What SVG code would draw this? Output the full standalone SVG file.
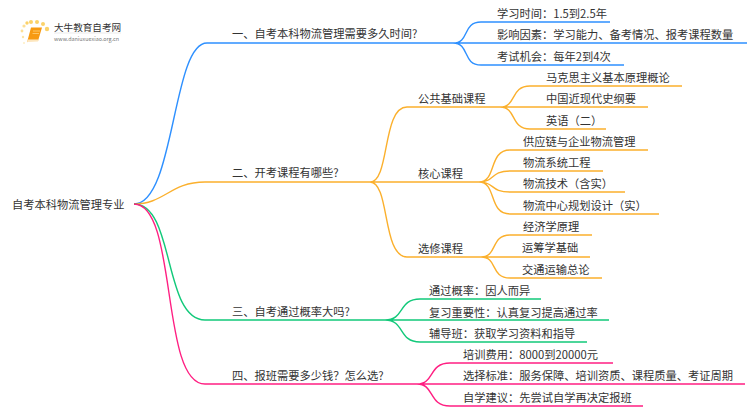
<svg xmlns="http://www.w3.org/2000/svg" width="750" height="410" viewBox="0 0 750 410">
<style>
text{font-family:"Noto Sans CJK SC","Noto Sans",sans-serif;font-size:11.25px;fill:#333}
.l{fill:none;stroke-width:1.4}
.b{stroke:#2e90ff}.o{stroke:#fbb02d}.g{stroke:#12c97a}.p{stroke:#ff1f82}
</style>
<rect width="750" height="410" fill="#fff"/>
<g id="connectors">
<path class="l b" d="M134 204C175 204 172 43 207 43H453"/>
<path class="l o" d="M134 204C165 204 170 182 205 182H370"/>
<path class="l g" d="M134 204C175 204 163 320 205 320H385"/>
<path class="l p" d="M134 204C178 204 160 384 205 384H417"/>
<path class="l b" d="M453 43C470 43 462 22 481 22H610M453 43H747M453 43C470 43 462 65 481 65H624"/>
<path class="l o" d="M370 182C390 182 382 107 407 107H500M370 182H479M370 182C390 182 382 257 407 257H481"/>
<path class="l o" d="M500 107C517 107 510 86 530 86H682M500 107H648M500 107C517 107 510 129 530 129H606"/>
<path class="l o" d="M479 182C497 182 488 150 510 150H648M479 182C495 182 490 171 510 171H603M479 182C495 182 490 192 510 192H625M479 182C497 182 488 214 510 214H659"/>
<path class="l o" d="M481 257C498 257 490 235 510 235H592M481 257H590M481 257C498 257 490 278 510 278H602"/>
<path class="l g" d="M385 320C405 320 398 299 420 299H541M385 320H609M385 320C405 320 398 342 420 342H587"/>
<path class="l p" d="M417 384C435 384 428 363 450 363H613M417 384H745M417 384C435 384 428 406 450 406H643"/>
</g>
<g id="logo">
<g fill="#fbd26a"><circle cx="24" cy="26" r="1.6" opacity=".7"/><circle cx="27" cy="23" r="1.7"/><circle cx="31" cy="22" r="2"/><circle cx="37" cy="22" r="2"/><circle cx="43" cy="24" r="2"/><circle cx="47" cy="29" r="2.2"/><circle cx="22" cy="31" r="1.4" opacity=".7"/><circle cx="23" cy="37" r="1.2" opacity=".6"/><circle cx="24" cy="43" r="1" opacity=".4"/></g>
<path d="M31 27.500H42L38 41H28L27 42.500Z" fill="#f79a12"/><path d="M27 41L28 39.500H38.500L38 41.500L28.500 42Z" fill="#fde6bd"/><path d="M33 31H40M32.500 33.500H39" stroke="#ffd27a" stroke-width=".8"/>
<text x="54" y="30.500" style="font-size:9.6px">大牛教育自考网</text>
<path d="M54 33H121" stroke="#ddd" stroke-width=".6"/>
<text x="54" y="41" style="font-size:5.4px;fill:#777">www.daniuxuexiao.org.cn</text>
</g>
<g id="root"><text x="12" y="209">自考本科物流管理专业</text></g>
<g id="n1"><text x="232" y="38">一、自考本科物流管理需要多久时间?</text></g>
<g id="n2"><text x="232" y="177">二、开考课程有哪些?</text></g>
<g id="n3"><text x="232" y="316">三、自考通过概率大吗?</text></g>
<g id="n4"><text x="232" y="380">四、报班需要多少钱？怎么选?</text></g>
<g id="n1a"><text x="497" y="18">学习时间：1.5到2.5年</text></g>
<g id="n1b"><text x="497" y="39">影响因素：学习能力、备考情况、报考课程数量</text></g>
<g id="n1c"><text x="497" y="61">考试机会：每年2到4次</text></g>
<g id="n2a"><text x="418" y="103">公共基础课程</text></g>
<g id="n2b"><text x="418" y="178">核心课程</text></g>
<g id="n2c"><text x="418" y="253">选修课程</text></g>
<g id="n2a1"><text x="546" y="82">马克思主义基本原理概论</text></g>
<g id="n2a2"><text x="546" y="103">中国近现代史纲要</text></g>
<g id="n2a3"><text x="546" y="125">英语（二）</text></g>
<g id="n2b1"><text x="523" y="146">供应链与企业物流管理</text></g>
<g id="n2b2"><text x="523" y="167">物流系统工程</text></g>
<g id="n2b3"><text x="523" y="188">物流技术（含实）</text></g>
<g id="n2b4"><text x="523" y="210">物流中心规划设计（实）</text></g>
<g id="n2c1"><text x="523" y="231">经济学原理</text></g>
<g id="n2c2"><text x="522" y="252">运筹学基础</text></g>
<g id="n2c3"><text x="522" y="274">交通运输总论</text></g>
<g id="n3a"><text x="429" y="295">通过概率：因人而异</text></g>
<g id="n3b"><text x="429" y="317">复习重要性：认真复习提高通过率</text></g>
<g id="n3c"><text x="429" y="338">辅导班：获取学习资料和指导</text></g>
<g id="n4a"><text x="463" y="359">培训费用：8000到20000元</text></g>
<g id="n4b"><text x="463" y="380">选择标准：服务保障、培训资质、课程质量、考证周期</text></g>
<g id="n4c"><text x="463" y="402">自学建议：先尝试自学再决定报班</text></g>
</svg>
